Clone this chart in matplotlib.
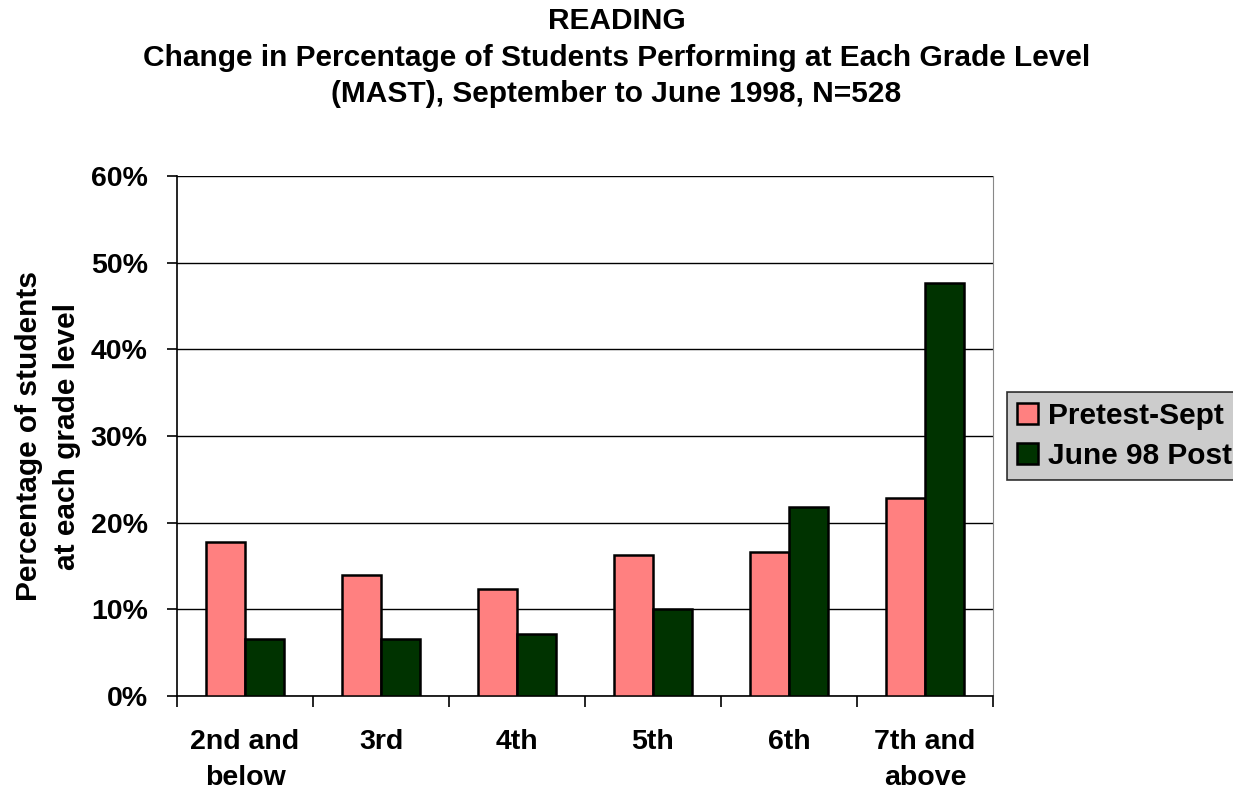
import matplotlib
matplotlib.use("Agg")
import matplotlib.pyplot as plt
import numpy as np
from matplotlib.ticker import FuncFormatter, FixedLocator

plt.rcParams['font.family'] = ['Liberation Sans', 'DejaVu Sans']
plt.rcParams['font.weight'] = 'bold'

categories = ["2nd and\nbelow", "3rd", "4th", "5th", "6th", "7th and\nabove"]
pretest = [17.8, 14.0, 12.3, 16.3, 16.6, 22.9]
posttest = [6.6, 6.6, 7.2, 10.0, 21.8, 47.7]
series_names = ["Pretest-Sept", "June 98 Post"]
yticks = [0, 10, 20, 30, 40, 50, 60]

fig = plt.figure(figsize=(12.33, 7.93), dpi=100)
ax = fig.add_axes([177/1233, 97/793, 816/1233, 520/793])

x = np.arange(len(categories))
w = 0.29
b1 = ax.bar(x - w/2, pretest, w, color="#ff8080", edgecolor="black", linewidth=1.8,
            label=series_names[0], zorder=3)
b2 = ax.bar(x + w/2, posttest, w, color="#003300", edgecolor="black", linewidth=1.8,
            label=series_names[1], zorder=3)

ax.set_xlim(-0.5, len(categories) - 0.5)
ax.set_ylim(0, 60)
ax.set_yticks(yticks)
ax.yaxis.set_major_formatter(FuncFormatter(lambda v, p: f"{int(v)}%"))
ax.yaxis.grid(True, color="black", linewidth=1.0, zorder=0)
ax.set_axisbelow(True)

# category labels centred, tick marks at category boundaries
ax.set_xticks(x)
ax.set_xticklabels(categories, fontsize=20.5, fontweight='bold', linespacing=1.5)
ax.tick_params(axis='x', which='major', length=0, pad=24)
ax.xaxis.set_minor_locator(FixedLocator(np.arange(-0.5, len(categories), 1.0)))
ax.tick_params(axis='x', which='minor', length=8, width=1.2, direction='out')
ax.tick_params(axis='y', length=7, width=1.2, direction='out', labelsize=20.5, pad=14)
for lab in ax.get_yticklabels():
    lab.set_fontweight('bold')

for s in ['left', 'bottom']:
    ax.spines[s].set_color('black')
    ax.spines[s].set_linewidth(1.2)
ax.spines['right'].set_color('#888888')
ax.spines['top'].set_visible(False)

ax.set_ylabel("Percentage of students\nat each grade level", fontsize=21.5,
              fontweight='bold', linespacing=1.45, labelpad=7)

title_kw = dict(ha='center', va='center', fontsize=21.5, fontweight='bold')
fig.text(0.5, 1 - 21/793, "READING", **title_kw)
fig.text(0.5, 1 - 58/793, "Change in Percentage of Students Performing at Each Grade Level", **title_kw)
fig.text(0.5, 1 - 94/793, "(MAST), September to June 1998, N=528", **title_kw)

leg = fig.legend(handles=[b1, b2], loc='upper left', bbox_to_anchor=(1007/1233, 1 - 392/793),
                 fontsize=21.5, frameon=True, fancybox=False, handlelength=0.7,
                 handleheight=0.7, handletextpad=0.35, borderpad=0.33, labelspacing=0.4,
                 borderaxespad=0)
leg.get_frame().set_facecolor("#c0c0c0")
leg.get_frame().set_edgecolor("black")
leg.get_frame().set_linewidth(1.2)
for t in leg.get_texts():
    t.set_fontweight('bold')

fig.savefig("out.png", dpi=100)
